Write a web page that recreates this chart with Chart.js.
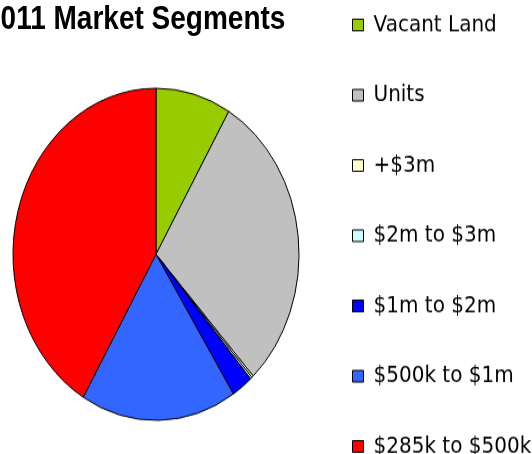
<!DOCTYPE html>
<html>
<head>
<meta charset="utf-8">
<script src="https://cdn.jsdelivr.net/npm/chart.js@4/dist/chart.umd.min.js"></script>
<style>
  html, body { margin: 0; padding: 0; background: #fff; overflow: hidden; }
  body { width: 532px; height: 454px; position: relative; }
  /* the source image is stretched vertically, so stretch the whole drawing */
  #wrap { position: absolute; left: 0; top: 0; width: 532px; height: 392px;
          transform: scaleY(1.1611); transform-origin: 0 0; }
  #title { position: absolute; left: -15px; top: 2px; white-space: nowrap;
           font: bold 28px "Liberation Sans", Arial, sans-serif; line-height: 28px; color: #000; }
  #segChart { position: absolute; left: 0; top: -29px; }
</style>
</head>
<body>
<div id="wrap">
  <div id="title">2011 Market Segments</div>
  <canvas id="segChart" width="532" height="496"></canvas>
</div>
<script>
// Market segments (share of sales, %)
const segments = ['Vacant Land', 'Units', '+$3m', '$2m to $3m', '$1m to $2m', '$500k to $1m', '$285k to $500k'];
const shares = [8.5, 29.6, 0.2, 0.2, 2.4, 17.6, 41.5];
const segColors = ['#99CC00', '#C0C0C0', '#FFFFCC', '#CCFFFF', '#0000FF', '#3366FF', '#FF0000'];

const segCtx = document.getElementById('segChart').getContext('2d');
new Chart(segCtx, {
  type: 'pie',
  data: {
    labels: segments,
    datasets: [{
      data: shares,
      backgroundColor: segColors,
      borderColor: '#000',
      borderWidth: 1,
      radius: 143
    }]
  },
  options: {
    responsive: false,
    animation: false,
    plugins: {
      legend: {
        position: 'right',
        align: 'start',
        maxWidth: 220,
        labels: {
          boxWidth: 11,
          boxHeight: 10,
          padding: 40.5,
          color: '#000',
          font: { family: 'DejaVu Sans', size: 20, lineHeight: 1 }
        }
      },
      tooltip: { enabled: false }
    }
  }
});
</script>
</body>
</html>
